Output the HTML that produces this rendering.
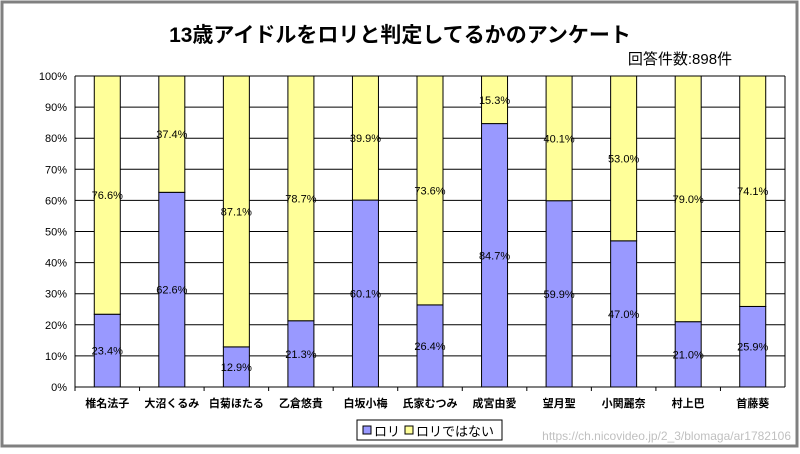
<!DOCTYPE html>
<html><head><meta charset="utf-8">
<style>
html,body{margin:0;padding:0;background:#fff;}
body{width:800px;height:449px;overflow:hidden;font-family:"Liberation Sans","Noto Sans CJK JP",sans-serif;}
svg text{font-family:"Liberation Sans","Noto Sans CJK JP",sans-serif;}
</style></head><body>
<svg id="chart" width="800" height="449">
<rect x="2" y="2" width="795" height="444" fill="#fff" stroke="#808080" stroke-width="3"/>
<text x="400" y="42" text-anchor="middle" font-size="21" font-weight="bold" fill="#000">13歳アイドルをロリと判定してるかのアンケート</text>
<text x="680" y="64" text-anchor="middle" font-size="15" fill="#000">回答件数:898件</text>
<g id="plot"></g>
<g>
<rect x="357" y="420" width="145" height="20" fill="#fff" stroke="#000"/>
<rect x="363" y="426" width="8" height="8" fill="#9999ff" stroke="#000"/>
<text x="374" y="436" font-size="13">ロリ</text>
<rect x="405" y="426" width="8" height="8" fill="#ffff99" stroke="#000"/>
<text x="416" y="436" font-size="13">ロリではない</text>
</g>
<text x="791" y="440" text-anchor="end" font-size="12" fill="#c0c0c0">https://ch.nicovideo.jp/2_3/blomaga/ar1782106</text>
</svg>
<script>
const categories=["椎名法子","大沼くるみ","白菊ほたる","乙倉悠貴","白坂小梅","氏家むつみ","成宮由愛","望月聖","小関麗奈","村上巴","首藤葵"];
const loli=[23.4,62.6,12.9,21.3,60.1,26.4,84.7,59.9,47.0,21.0,25.9];
const notLoli=[76.6,37.4,87.1,78.7,39.9,73.6,15.3,40.1,53.0,79.0,74.1];
const yTicks=[0,10,20,30,40,50,60,70,80,90,100];
const NS="http://www.w3.org/2000/svg";
const g=document.getElementById('plot');
const L=75,R=785,T=76,B=387;
const y=v=>B-(v/100)*(B-T);
const step=(R-L)/categories.length;
const xc=i=>L+step*(i+0.5);
const bw=26;
function mk(t,a){const e=document.createElementNS(NS,t);for(const k in a)e.setAttribute(k,a[k]);g.appendChild(e);return e;}
yTicks.forEach(t=>{
 const l=mk('line',{x1:L,x2:R,y1:y(t),y2:y(t),stroke:'#000','stroke-width':1});
 
 
 const tx=mk('text',{x:L-8,y:y(t)+4,'text-anchor':'end','font-size':11});
 tx.textContent=t+'%';
 
 
});
categories.forEach((c,i)=>{
 const x=xc(i)-bw/2;
 const b1=mk('rect',{x:x,y:y(loli[i]),width:bw,height:B-y(loli[i]),fill:'#9999ff',stroke:'#000'});
 
 
 const top=loli[i]+notLoli[i];
 const b2=mk('rect',{x:x,y:y(top),width:bw,height:y(loli[i])-y(top),fill:'#ffff99',stroke:'#000'});
 
 
 const t1=mk('text',{x:xc(i),y:y(loli[i]/2)+4,'text-anchor':'middle','font-size':11});
 t1.textContent=loli[i].toFixed(1)+'%';
 
 
 const t2=mk('text',{x:xc(i),y:y(loli[i]+notLoli[i]/2)+4,'text-anchor':'middle','font-size':11});
 t2.textContent=notLoli[i].toFixed(1)+'%';
 
 
 const cl=mk('text',{x:xc(i),y:407,'text-anchor':'middle','font-size':11,'font-weight':'bold'});
 cl.textContent=c;
 
 
 const tk=mk('line',{x1:L+step*i,x2:L+step*i,y1:B,y2:B+4,stroke:'#000'});
 
 
});
const ax=mk('line',{x1:L,x2:L,y1:T,y2:B,stroke:'#000'});


const ax2=mk('line',{x1:R,x2:R,y1:T,y2:B,stroke:'#000'});


</script>
</body></html>
